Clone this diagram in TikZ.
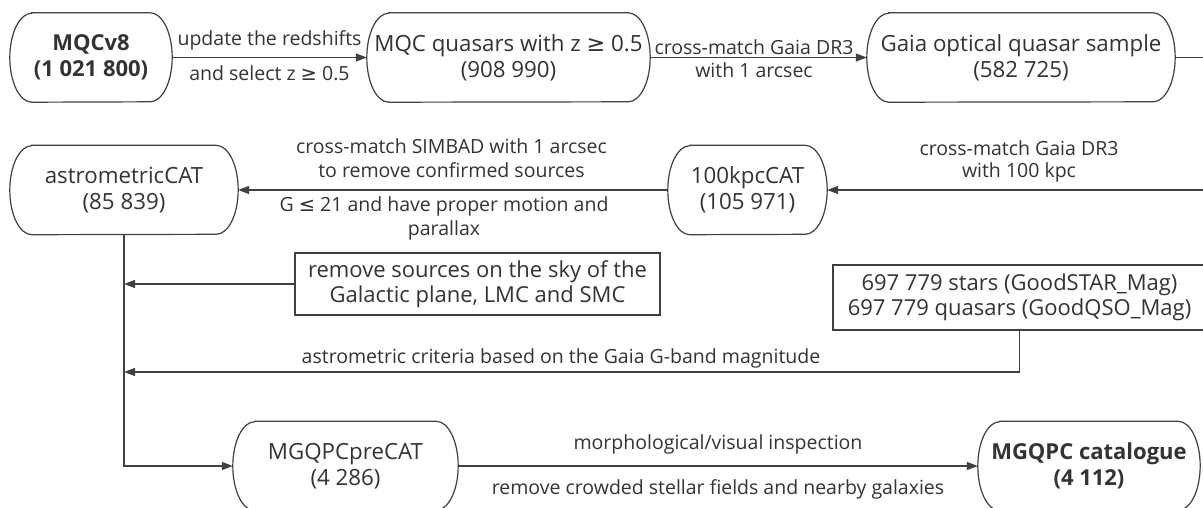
\documentclass[tikz,border=0pt]{standalone}
\usepackage{fontspec}
\setmainfont{Open Sans}
\newfontfamily\symf{DejaVu Sans}
\usetikzlibrary{arrows.meta,calc}
\definecolor{ink}{HTML}{333333}
\definecolor{edgecol}{HTML}{404040}
\newcommand\geqsym{{\symf ≥}}
\newcommand\leqsym{{\symf ≤}}
\newcommand\stadiumoutline[1]{%
  \draw[conn] ([xshift=22pt]#1.north west) -- ([xshift=-22pt]#1.north east)
    arc[start angle=90,end angle=-90,x radius=22pt,y radius=44.5pt]
    -- ([xshift=22pt]#1.south west)
    arc[start angle=270,end angle=90,x radius=22pt,y radius=44.5pt] -- cycle;}
\begin{document}
\begin{tikzpicture}[x=1pt,y=1pt,
  box/.style={draw=none,text=ink,align=center,font=\fontsize{22.3}{26}\selectfont,inner sep=0pt,minimum height=89pt},
  boldbox/.style={box,font=\fontsize{22}{26}\selectfont\bfseries},
  rect/.style={draw=edgecol,line width=1.2pt,text=ink,align=center,font=\fontsize{22}{25}\selectfont,inner sep=0pt},
  lab/.style={text=ink,font=\fontsize{19.5}{23.5}\selectfont,inner sep=0pt,anchor=base},
  conn/.style={draw=edgecol,line width=1.2pt},
  arr/.style={conn,-{Triangle[length=11pt,width=8pt]}}]
\useasboundingbox (0,0) rectangle (1203,-507);
\fill[white] (0,0) rectangle (1203,-507);

% row 1
\node[boldbox,minimum width=162pt] (mqc) at (91,-57.5) {MQCv8\\(1 021 800)};
\node[box,minimum width=283pt] (mqcz) at (508.5,-57.5) {MQC quasars with z \geqsym\ 0.5\\(908 990)};
\node[box,minimum width=308pt] (gaia) at (1021,-57.5) {Gaia optical quasar sample\\(582 725)};
% row 2
\node[box,minimum width=228pt] (astro) at (124,-190) {astrometricCAT\\(85 839)};
\node[box,minimum width=159pt] (kpc) at (747.5,-190) {100kpcCAT\\(105 971)};
% boxes
\node[rect,minimum width=365pt,minimum height=62pt] (rem) at (477.5,-284) {remove sources on the sky of the\\Galactic plane, LMC and SMC};
\node[rect,minimum width=373pt,minimum height=65pt] (stars) at (1019.5,-297.5) {697 779 stars (GoodSTAR\_Mag)\\697 779 quasars (GoodQSO\_Mag)};
% row 3
\node[box,minimum width=225pt] (pre) at (345.5,-466) {MGQPCpreCAT\\(4 286)};
\node[boldbox,minimum width=222pt] (cat) at (1089,-466) {MGQPC catalogue\\(4 112)};

\foreach \n in {mqc,mqcz,gaia,astro,kpc,pre,cat} {\stadiumoutline{\n}}

% connectors row 1
\draw[arr] (mqc.east) -- (mqcz.west);
\node[lab] (l1a) at ($(mqc.east)!0.5!(mqcz.west)+(0,12)$) {update the redshifts};
\node[lab] (l1b) at ($(mqc.east)!0.5!(mqcz.west)+(0,-23)$) {and select z \geqsym\ 0.5};
\draw[arr] (mqcz.east) -- (gaia.west);
\node[lab] (l2a) at ($(mqcz.east)!0.5!(gaia.west)+(-4.5,3)$) {cross-match Gaia DR3};
\node[lab] (l2b) at ($(mqcz.east)!0.5!(gaia.west)+(-4.5,-19.5)$) {with 1 arcsec};
\coordinate (gout) at (1210,-57.5);
\draw[conn] (gaia.east) -- (gout);

% row 2
\coordinate (kin) at (1210,-190);
\draw[arr] (kin) -- (kpc.east);
\node[lab] (l3a) at (1019,-155) {cross-match Gaia DR3};
\node[lab] (l3b) at (1019,-177) {with 100 kpc};
\draw[arr] (kpc.west) -- (astro.east);
\node[lab] (l4a) at ($(kpc.west)!0.5!(astro.east)+(-1.5,37)$) {cross-match SIMBAD with 1 arcsec};
\node[lab] (l4b) at ($(kpc.west)!0.5!(astro.east)+(-1.5,13)$) {to remove confirmed sources};
\node[lab] (l5a) at (444,-211) {G \leqsym\ 21 and have proper motion and};
\node[lab] (l5b) at (444,-235) {parallax};

% trunk
\draw[arr] (astro.south) |- (pre.west);
\coordinate (j1) at (astro.south |- rem.west);
\draw[arr] (rem.west) -- (j1);
\coordinate (sbend) at (stars.south |- 0,-372);
\coordinate (j2) at (astro.south |- sbend);
\draw[arr] (stars.south) -- (sbend) -- (j2);
\node[lab] (l6) at (561,-363) {astrometric criteria based on the Gaia G-band magnitude};

% row 3
\draw[arr] (pre.east) -- (cat.west);
\node[lab] (l7a) at ($(pre.east)!0.5!(cat.west)+(0,17)$) {morphological/visual inspection};
\node[lab] (l7b) at ($(pre.east)!0.5!(cat.west)+(0,-28)$) {remove crowded stellar fields and nearby galaxies};
\end{tikzpicture}
\end{document}
